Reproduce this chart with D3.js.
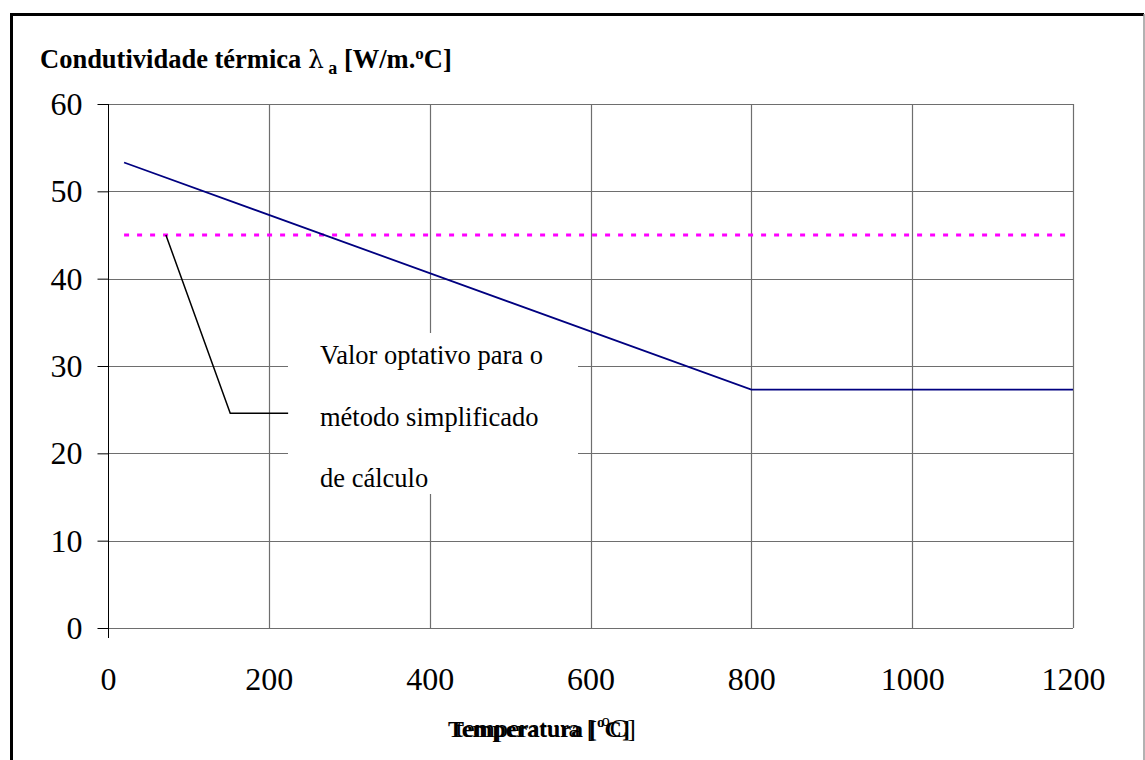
<!DOCTYPE html>
<html><head><meta charset="utf-8">
<script src="https://cdn.jsdelivr.net/npm/d3@7"></script>
<style>body{margin:0;background:#fff}svg{display:block}text{font-family:"Liberation Serif","Times New Roman",serif}</style>
</head><body>
<svg id="c" width="1145" height="760"></svg>
<script>
const xTicks = [0, 200, 400, 600, 800, 1000, 1200];
const yTicks = [0, 10, 20, 30, 40, 50, 60];
const conductTemp = [20, 800, 1200];
const conductVal = [53.3, 27.3, 27.3];
const simplifiedTemp = [20, 1200];
const simplifiedVal = [45, 45];
const leaderTemp = [72, 152, 224];
const leaderVal = [45, 24.6, 24.6];
const noteLines = ["Valor optativo para o", "método simplificado", "de cálculo"];

const svg = d3.select("#c");
const x = d3.scaleLinear().domain([0, 1200]).range([108, 1073]);
const y = d3.scaleLinear().domain([0, 60]).range([628, 104]);

// outer frame
svg.append("line").attr("x1", 11.5).attr("x2", 11.5).attr("y1", 13).attr("y2", 760).attr("stroke", "#000").attr("stroke-width", 3);
svg.append("line").attr("x1", 10).attr("x2", 1144).attr("y1", 14.5).attr("y2", 14.5).attr("stroke", "#000").attr("stroke-width", 3);
svg.append("line").attr("x1", 1144).attr("x2", 1144).attr("y1", 14).attr("y2", 760).attr("stroke", "#999").attr("stroke-width", 1.5);

// gridlines
const g = svg.append("g");
g.selectAll(".hg").data(yTicks).join("line")
  .attr("x1", x(0)).attr("x2", x(1200))
  .attr("y1", d => Math.round(y(d)) + 0.5).attr("y2", d => Math.round(y(d)) + 0.5)
  .attr("stroke", "#6e6e6e").attr("stroke-width", 1.2);
g.selectAll(".vg").data(xTicks.slice(1)).join("line")
  .attr("x1", d => Math.round(x(d)) + 0.5).attr("x2", d => Math.round(x(d)) + 0.5)
  .attr("y1", y(60)).attr("y2", y(0))
  .attr("stroke", "#6e6e6e").attr("stroke-width", 1.2);

// y axis
const ya = svg.append("g").attr("transform", `translate(${Math.round(x(0)) + 0.5},0)`)
  .call(d3.axisLeft(y).tickValues(yTicks).tickFormat(d3.format("d")).tickSize(11).tickPadding(15));
ya.select(".domain").remove();
ya.append("line").attr("x1", 0).attr("x2", 0).attr("y1", y(60)).attr("y2", y(0) + 10).attr("stroke", "#000");
ya.selectAll("line").attr("stroke", "#000");
ya.selectAll("text").attr("font-size", 32).attr("font-family", "Liberation Serif").attr("fill", "#000").attr("dy", "0.33em");

// x axis labels
const xa = svg.append("g").attr("transform", `translate(0,${y(0)})`)
  .call(d3.axisBottom(x).tickValues(xTicks).tickFormat(d3.format("d")).tickSize(0).tickPadding(33));
xa.select(".domain").remove();
xa.selectAll("text").attr("font-size", 32).attr("font-family", "Liberation Serif").attr("fill", "#000").attr("dy", "0.9em");

// data lines
const line = d3.line().x(d => x(d[0])).y(d => y(d[1]));
svg.append("path").datum(d3.zip(simplifiedTemp, simplifiedVal)).attr("d", line)
  .attr("fill", "none").attr("stroke", "#ff00ff").attr("stroke-width", 3).attr("stroke-dasharray", "5,8");
svg.append("path").datum(d3.zip(conductTemp, conductVal)).attr("d", line)
  .attr("fill", "none").attr("stroke", "#000080").attr("stroke-width", 1.8);

// note box
svg.append("rect").attr("x", 288).attr("y", 333).attr("width", 290).attr("height", 161).attr("fill", "#fff");
svg.append("path").datum(d3.zip(leaderTemp, leaderVal)).attr("d", line)
  .attr("fill", "none").attr("stroke", "#000").attr("stroke-width", 1.5);
svg.append("g").selectAll("text").data(noteLines).join("text")
  .attr("x", 320).attr("y", (d, i) => 364 + i * 61.5)
  .attr("font-size", 26.5).attr("fill", "#000").text(d => d);

// y title
const yt = svg.append("text").attr("x", 40).attr("y", 68).attr("font-size", 26.5).attr("font-weight", "bold");
yt.append("tspan").text("Condutividade térmica ");
yt.append("tspan").attr("font-weight", "normal").attr("font-family", "DejaVu Serif").attr("font-size", 25).text("λ");
yt.append("tspan").attr("font-size", 18).attr("dy", 6).text(" a");
yt.append("tspan").attr("dy", -6).text(" [W/m.");
yt.append("tspan").attr("font-size", 17).attr("dy", -9).text("o");
yt.append("tspan").attr("dy", 9).text("C]");

// x title (two overlapping labels, as in the source)
const xt1 = svg.append("text").attr("x", 448).attr("y", 737).attr("font-size", 24).attr("font-weight", "bold");
xt1.append("tspan").text("Temperatura [");
xt1.append("tspan").attr("font-size", 15).attr("dy", -10).text("o");
xt1.append("tspan").attr("dy", 10).text("C]");
const xt2 = svg.append("text").attr("x", 456).attr("y", 737).attr("font-size", 26);
xt2.append("tspan").text("temperatura [ ");
xt2.append("tspan").attr("font-size", 16).attr("dy", -11).text("o");
xt2.append("tspan").attr("dy", 11).text("C]");
</script>
</body></html>
